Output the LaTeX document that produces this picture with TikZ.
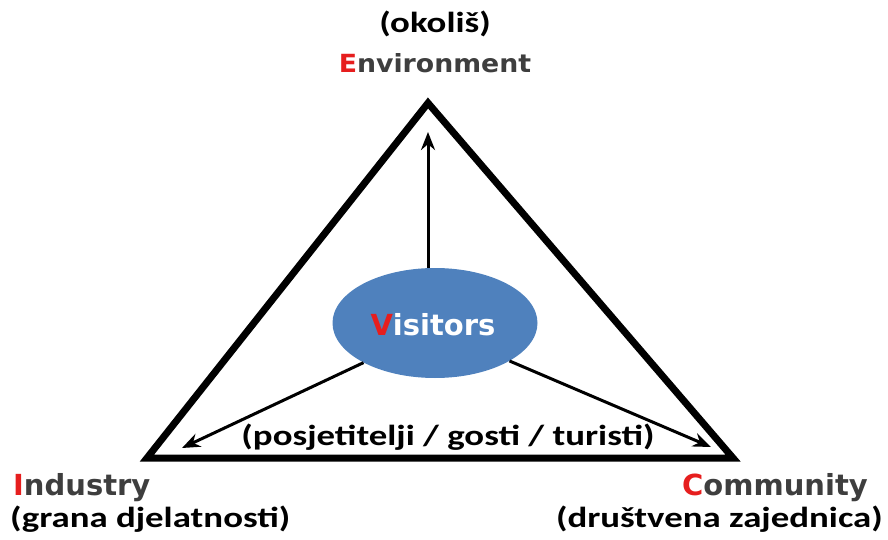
\documentclass[tikz,border=0pt]{standalone}
\usepackage{fontspec}
\setmainfont{Carlito}
\newfontfamily\calw[FakeStretch=1.27]{Carlito}
\newfontfamily\verd{DejaVu Sans}
\newfontfamily\verdE[FakeStretch=1.07]{DejaVu Sans}
\usetikzlibrary{arrows.meta,shapes.geometric}
\definecolor{vblue}{RGB}{79,129,189}
\definecolor{vred}{RGB}{230,30,30}
\definecolor{vgray}{RGB}{62,62,62}
\tikzset{
  edge/.style={line width=7pt, line join=miter},
  arr/.style={line width=3pt, -{Stealth[length=18pt,width=14pt]}},
  cal/.style={font=\calw\bfseries\fontsize{29}{32}\selectfont, text=black, inner sep=0pt, anchor=base},
  ver/.style={font=\verd\bfseries\fontsize{29}{32}\selectfont, text=vgray, inner sep=0pt, anchor=base},
}
\begin{document}
\begin{tikzpicture}[x=1pt,y=-1pt]
\useasboundingbox (0,0) rectangle (888,540);
\coordinate (E) at (428,103);
\coordinate (I) at (147,458);
\coordinate (C) at (733,458);
\draw[edge] (E) -- (C) -- (I) -- cycle;
\node[ellipse, fill=vblue, minimum width=205pt, minimum height=110pt, inner sep=0pt] (V) at (435,323) {};
\node[inner sep=0pt, anchor=base, font=\verd\bfseries\fontsize{29}{32}\selectfont, text=white] (Vt) at (433,335) {\textcolor{vred}{V}isitors};
\coordinate (Etip) at (428,132);
\coordinate (Itip) at (182,448);
\coordinate (Ctip) at (711,447);
\draw[arr] (V.north -| Etip) -- (Etip);
\draw[arr] (V.-151) -- (Itip);
\draw[arr] (V.-27) -- (Ctip);
\node[cal] (ok) at (435,33) {(okoliš)};
\node[ver, font=\verdE\bfseries\fontsize{25}{30}\selectfont] (env) at (435,73) {\textcolor{vred}{E}nvironment};
\node[cal] (pos) at (448,445) {(posjetitelji / gosti / turisti)};
\node[ver, anchor=base west] (ind) at (13,495) {\textcolor{vred}{I}ndustry};
\node[cal, anchor=base west] (gr) at (10,527) {(grana djelatnosti)};
\node[ver, anchor=base east] (com) at (868,495) {\textcolor{vred}{C}ommunity};
\node[cal, anchor=base east] (dz) at (883,527) {(društvena zajednica)};
\end{tikzpicture}
\end{document}
